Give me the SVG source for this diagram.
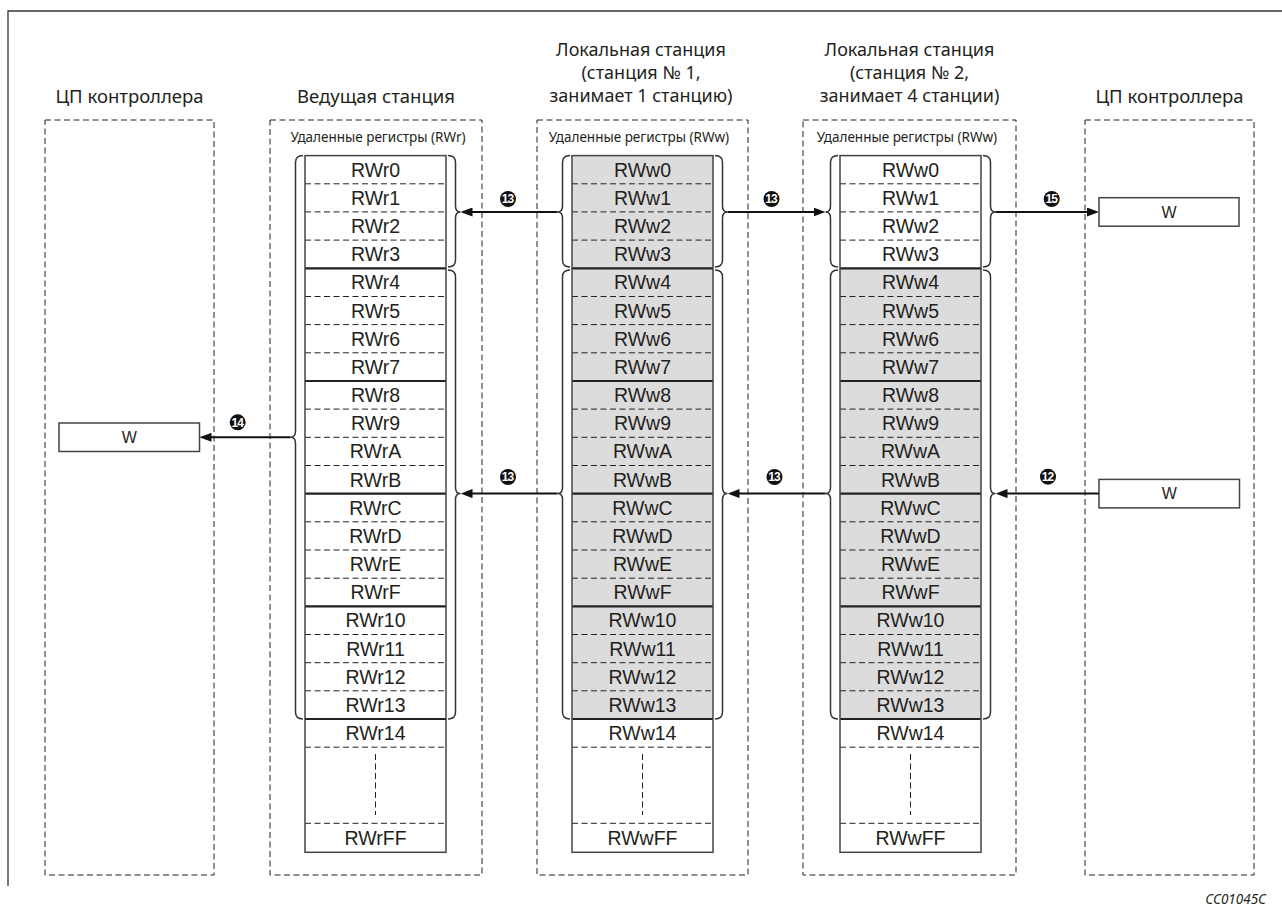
<svg xmlns="http://www.w3.org/2000/svg" xmlns:xlink="http://www.w3.org/1999/xlink" width="1282" height="910" viewBox="0 0 1282 910">
<style>
.hdr{font-family:"Noto Sans","Open Sans",sans-serif;font-size:18.5px;fill:#231f20;text-anchor:middle}
.hdr2{font-family:"Noto Sans","Open Sans",sans-serif;font-size:18px;fill:#231f20;text-anchor:middle}
.sub{font-family:"Noto Sans","Open Sans",sans-serif;font-size:13.5px;fill:#231f20;text-anchor:middle}
.cell{font-family:"Liberation Sans",Arial,sans-serif;font-size:19.5px;fill:#231f20;text-anchor:middle}
.wt{font-family:"Liberation Sans",Arial,sans-serif;font-size:16px;fill:#231f20;text-anchor:middle}
.num{font-family:"Liberation Sans",Arial,sans-serif;font-size:12px;font-weight:bold;fill:#fff;text-anchor:middle;letter-spacing:-0.8px}
.box{fill:none;stroke:#222;stroke-width:1;stroke-dasharray:6 3.5}
.dl{fill:none;stroke:#222;stroke-width:1;stroke-dasharray:6 3.5}
.sl{fill:none;stroke:#222;stroke-width:2.2}
.ol{fill:none;stroke:#444;stroke-width:1.5}
.gray{fill:#dcdcdd}
.brace{fill:none;stroke:#333;stroke-width:1.5}
.arr{fill:none;stroke:#111;stroke-width:2;marker-end:url(#ah)}
.wbox{fill:#fff;stroke:#444;stroke-width:1.5}
.frame{fill:none;stroke:#333;stroke-width:1.3}
</style>
<defs>
<marker id="ah" viewBox="0 0 12 9" refX="6" refY="4.5" markerWidth="12" markerHeight="9" markerUnits="userSpaceOnUse" orient="auto">
<path d="M0,0 L12,4.5 L0,9 z" fill="#111"/>
</marker>
<g id="grid">
<path class="dl" d="M0,183.8H141M0,211.9H141M0,240.1H141M0,296.5H141M0,324.6H141M0,352.8H141M0,409.1H141M0,437.3H141M0,465.5H141M0,521.8H141M0,550H141M0,578.2H141M0,634.5H141M0,662.7H141M0,690.8H141M0,747.2H141M0,823.3H141M70.5,754V815"/>
<path class="sl" d="M0,268.3H141M0,381H141M0,493.6H141M0,606.3H141M0,719H141"/>
<rect class="ol" x="0" y="155.6" width="141" height="696.7"/>
</g>
</defs>

<path class="frame" d="M8,886V11H1282"/>

<g id="cpu-left">
<text class="hdr" x="129.5" y="102.5">ЦП контроллера</text>
<rect class="box" x="45" y="120" width="169" height="755"/>
</g>

<g id="w-left">
<rect class="wbox" x="59" y="423" width="140.5" height="28.5"/>
<text class="wt" x="129.2" y="443">W</text>
</g>

<g id="master">
<text class="hdr" x="376" y="102.5">Ведущая станция</text>
<rect class="box" x="270" y="120" width="212" height="755"/>
<text class="sub" x="378" y="141.5">Удаленные регистры (RWr)</text>
<use xlink:href="#grid" x="305"/>
<g transform="translate(375.5,0)">
<text class="cell" y="176.7">RWr0</text><text class="cell" y="204.9">RWr1</text><text class="cell" y="233">RWr2</text><text class="cell" y="261.2">RWr3</text>
<text class="cell" y="289.4">RWr4</text><text class="cell" y="317.6">RWr5</text><text class="cell" y="345.7">RWr6</text><text class="cell" y="373.9">RWr7</text>
<text class="cell" y="402.1">RWr8</text><text class="cell" y="430.2">RWr9</text><text class="cell" y="458.4">RWrA</text><text class="cell" y="486.6">RWrB</text>
<text class="cell" y="514.7">RWrC</text><text class="cell" y="542.9">RWrD</text><text class="cell" y="571.1">RWrE</text><text class="cell" y="599.3">RWrF</text>
<text class="cell" y="627.4">RWr10</text><text class="cell" y="655.6">RWr11</text><text class="cell" y="683.8">RWr12</text><text class="cell" y="711.9">RWr13</text>
<text class="cell" y="740.1">RWr14</text><text class="cell" y="844.8">RWrFF</text>
</g>
<path class="brace" d="M303,155.6Q295.5,155.6 295.5,162.6V431.3Q295.5,437.3 290.5,437.3Q295.5,437.3 295.5,443.3V712Q295.5,719 303,719"/>
<path class="brace" d="M448,155.6Q455.5,155.6 455.5,162.6V206Q455.5,212 460.5,212Q455.5,212 455.5,218V260Q455.5,267 448,267"/>
<path class="brace" d="M448,270Q455.5,270 455.5,277V487.6Q455.5,493.6 460.5,493.6Q455.5,493.6 455.5,499.6V712Q455.5,719 448,719"/>
</g>

<g id="local1">
<text class="hdr2" x="641" y="55.5">Локальная станция</text>
<text class="hdr2" x="641" y="78.5">(станция № 1,</text>
<text class="hdr2" x="641" y="102">занимает 1 станцию)</text>
<rect class="box" x="537" y="120" width="211" height="755"/>
<text class="sub" x="639" y="141.5">Удаленные регистры (RWw)</text>
<rect class="gray" x="572" y="155.6" width="141" height="563.4"/>
<use xlink:href="#grid" x="572"/>
<g transform="translate(642.5,0)">
<text class="cell" y="176.7">RWw0</text><text class="cell" y="204.9">RWw1</text><text class="cell" y="233">RWw2</text><text class="cell" y="261.2">RWw3</text>
<text class="cell" y="289.4">RWw4</text><text class="cell" y="317.6">RWw5</text><text class="cell" y="345.7">RWw6</text><text class="cell" y="373.9">RWw7</text>
<text class="cell" y="402.1">RWw8</text><text class="cell" y="430.2">RWw9</text><text class="cell" y="458.4">RWwA</text><text class="cell" y="486.6">RWwB</text>
<text class="cell" y="514.7">RWwC</text><text class="cell" y="542.9">RWwD</text><text class="cell" y="571.1">RWwE</text><text class="cell" y="599.3">RWwF</text>
<text class="cell" y="627.4">RWw10</text><text class="cell" y="655.6">RWw11</text><text class="cell" y="683.8">RWw12</text><text class="cell" y="711.9">RWw13</text>
<text class="cell" y="740.1">RWw14</text><text class="cell" y="844.8">RWwFF</text>
</g>
<path class="brace" d="M570,155.6Q562.5,155.6 562.5,162.6V206Q562.5,212 557.5,212Q562.5,212 562.5,218V260Q562.5,267 570,267"/>
<path class="brace" d="M570,270Q562.5,270 562.5,277V487.6Q562.5,493.6 557.5,493.6Q562.5,493.6 562.5,499.6V712Q562.5,719 570,719"/>
<path class="brace" d="M715,155.6Q722.5,155.6 722.5,162.6V206Q722.5,212 727.5,212Q722.5,212 722.5,218V260Q722.5,267 715,267"/>
<path class="brace" d="M715,270Q722.5,270 722.5,277V487.6Q722.5,493.6 727.5,493.6Q722.5,493.6 722.5,499.6V712Q722.5,719 715,719"/>
</g>

<g id="local2">
<text class="hdr2" x="909.5" y="55.5">Локальная станция</text>
<text class="hdr2" x="909.5" y="78.5">(станция № 2,</text>
<text class="hdr2" x="909.5" y="102">занимает 4 станции)</text>
<rect class="box" x="803" y="120" width="213" height="755"/>
<text class="sub" x="907" y="141.5">Удаленные регистры (RWw)</text>
<rect class="gray" x="840" y="268.3" width="141" height="450.7"/>
<use xlink:href="#grid" x="840"/>
<g transform="translate(910.5,0)">
<text class="cell" y="176.7">RWw0</text><text class="cell" y="204.9">RWw1</text><text class="cell" y="233">RWw2</text><text class="cell" y="261.2">RWw3</text>
<text class="cell" y="289.4">RWw4</text><text class="cell" y="317.6">RWw5</text><text class="cell" y="345.7">RWw6</text><text class="cell" y="373.9">RWw7</text>
<text class="cell" y="402.1">RWw8</text><text class="cell" y="430.2">RWw9</text><text class="cell" y="458.4">RWwA</text><text class="cell" y="486.6">RWwB</text>
<text class="cell" y="514.7">RWwC</text><text class="cell" y="542.9">RWwD</text><text class="cell" y="571.1">RWwE</text><text class="cell" y="599.3">RWwF</text>
<text class="cell" y="627.4">RWw10</text><text class="cell" y="655.6">RWw11</text><text class="cell" y="683.8">RWw12</text><text class="cell" y="711.9">RWw13</text>
<text class="cell" y="740.1">RWw14</text><text class="cell" y="844.8">RWwFF</text>
</g>
<path class="brace" d="M838,155.6Q830.5,155.6 830.5,162.6V206Q830.5,212 825.5,212Q830.5,212 830.5,218V260Q830.5,267 838,267"/>
<path class="brace" d="M838,270Q830.5,270 830.5,277V487.6Q830.5,493.6 825.5,493.6Q830.5,493.6 830.5,499.6V712Q830.5,719 838,719"/>
<path class="brace" d="M983,155.6Q990.5,155.6 990.5,162.6V206Q990.5,212 995.5,212Q990.5,212 990.5,218V260Q990.5,267 983,267"/>
<path class="brace" d="M983,270Q990.5,270 990.5,277V487.6Q990.5,493.6 995.5,493.6Q990.5,493.6 990.5,499.6V712Q990.5,719 983,719"/>
</g>

<g id="cpu-right">
<text class="hdr" x="1169.5" y="102.5">ЦП контроллера</text>
<rect class="box" x="1085" y="120" width="169" height="755"/>
</g>

<g id="w-right-top">
<rect class="wbox" x="1099" y="197.7" width="140" height="28.5"/>
<text class="wt" x="1169" y="217.7">W</text>
</g>

<g id="w-right-bottom">
<rect class="wbox" x="1099" y="479.4" width="140.5" height="28.5"/>
<text class="wt" x="1169.2" y="499.4">W</text>
</g>

<g id="connectors">
<path class="arr" d="M290.5,437.3H205.5"/>
<path class="arr" d="M557.5,212H466.5"/>
<path class="arr" d="M727.5,212H819.5"/>
<path class="arr" d="M995.5,212H1093"/>
<path class="arr" d="M557.5,493.6H466.5"/>
<path class="arr" d="M825.5,493.6H733.5"/>
<path class="arr" d="M1099,493.6H1001.5"/>
</g>

<g id="labels">
<circle cx="237.7" cy="422.3" r="8" fill="#111"/><text class="num" x="237.3" y="426.5">14</text>
<circle cx="508" cy="199" r="8" fill="#111"/><text class="num" x="507.6" y="203.2">13</text>
<circle cx="771.5" cy="199" r="8" fill="#111"/><text class="num" x="771.1" y="203.2">13</text>
<circle cx="1051.7" cy="199" r="8" fill="#111"/><text class="num" x="1051.3" y="203.2">15</text>
<circle cx="508" cy="477" r="8" fill="#111"/><text class="num" x="507.6" y="481.2">13</text>
<circle cx="774.5" cy="477" r="8" fill="#111"/><text class="num" x="774.1" y="481.2">13</text>
<circle cx="1048" cy="476.7" r="8" fill="#111"/><text class="num" x="1047.6" y="480.9">12</text>
</g>

<text x="1266" y="904" style="font-family:'Noto Sans','Open Sans',sans-serif;font-size:13.5px;font-style:italic;fill:#231f20;text-anchor:end">CC01045C</text>
</svg>
